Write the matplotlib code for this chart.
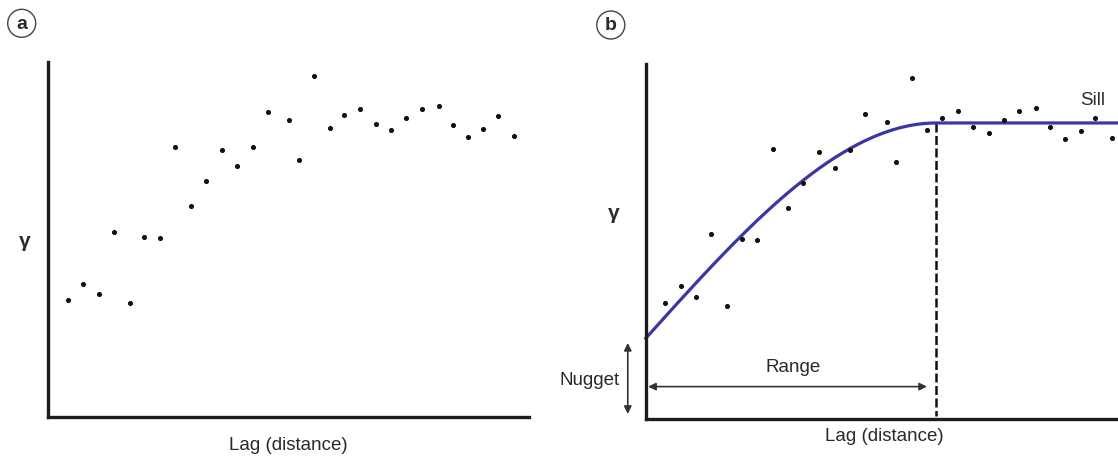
import numpy as np
import matplotlib
matplotlib.use('Agg')
from matplotlib import pyplot as plt
from matplotlib.patches import Circle

plt.rcParams['font.family'] = ['Liberation Sans', 'DejaVu Sans']

# Experimental semivariogram (lag, gamma) in arbitrary units
lag = [4.1, 7.3, 10.5, 13.6, 16.9, 20.0, 23.2, 26.4, 29.6, 32.8,
       36.1, 39.3, 42.5, 45.7, 50.1, 52.1, 55.3, 58.5, 61.6, 64.9,
       68.1, 71.3, 74.5, 77.7, 81.2, 84.1, 87.3, 90.5, 93.5, 96.9]
gamma = [32.8, 37.5, 34.5, 52.2, 32.0, 50.7, 50.5, 76.1, 59.5, 66.5,
         75.1, 70.6, 75.9, 85.8, 83.7, 72.4, 96.1, 81.4, 84.9, 86.8,
         82.4, 80.7, 84.2, 86.7, 87.6, 82.2, 78.9, 81.1, 84.8, 79.2]

# Spherical model parameters
nugget = 22.8
sill = 83.4
vrange = 60.4

text_col = '#2a2a2a'
spine_col = '#1c1c1c'
curve_col = '#3a36a4'


def spherical(h):
    h = np.asarray(h)
    r = np.clip(h / vrange, 0, 1)
    return nugget + (sill - nugget) * (1.5 * r - 0.5 * r ** 3)


def style_axes(ax):
    ax.set_xlim(0, 100)
    ax.set_ylim(0, 100)
    ax.set_xticks([])
    ax.set_yticks([])
    for side in ['top', 'right']:
        ax.spines[side].set_visible(False)
    for side in ['left', 'bottom']:
        ax.spines[side].set_linewidth(2.4)
        ax.spines[side].set_color(spine_col)
    ax.patch.set_alpha(0)


fig = plt.figure(figsize=(11.18, 4.57), dpi=100)

# PANEL a: points only
ax1 = fig.add_axes([0.0432, 0.0875, 0.43, 0.7775])
style_axes(ax1)
ax1.scatter(lag, gamma, s=7, color='#111111', zorder=3, clip_on=False)
ax1.text(-0.0485, 0.493, 'γ', transform=ax1.transAxes, ha='center', va='center',
         fontsize=15, fontweight='bold', color=text_col)
ax1.text(0.5, -0.079, 'Lag (distance)', transform=ax1.transAxes, ha='center', va='center',
         fontsize=13.5, color=text_col)

# PANEL b: points + spherical model
ax2 = fig.add_axes([0.5776, 0.0825, 0.43, 0.7775])
style_axes(ax2)
ax2.scatter(lag, gamma, s=7, color='#111111', zorder=3, clip_on=False)
h = np.linspace(0, 100, 400)
ax2.plot(h, spherical(h), color=curve_col, lw=2.3, zorder=2, clip_on=False)
ax2.plot([vrange, vrange], [sill, 0.8], color='#111111', lw=1.8,
         dashes=(3.6, 1.4), zorder=1)

ax2.annotate('', xy=(0.5, 9.2), xytext=(58.5, 9.2),
             arrowprops=dict(arrowstyle='<|-|>', lw=1.2, color='#333333',
                             mutation_scale=11, shrinkA=0, shrinkB=0))
ax2.text(30.7, 14.5, 'Range', ha='center', va='center', fontsize=13.5, color=text_col)

ax2.annotate('', xy=(-3.74, 1.5), xytext=(-3.74, 21.5), annotation_clip=False,
             arrowprops=dict(arrowstyle='<|-|>', lw=1.2, color='#333333',
                             mutation_scale=11, shrinkA=0, shrinkB=0))
ax2.text(-5.35, 10.8, 'Nugget', ha='right', va='center', fontsize=13.5,
         color=text_col, clip_on=False)

ax2.text(90.3, 87.4, 'Sill', ha='left', va='bottom', fontsize=13.5, color=text_col)
ax2.text(-0.0668, 0.579, 'γ', transform=ax2.transAxes, ha='center', va='center',
         fontsize=15, fontweight='bold', color=text_col)
ax2.text(0.496, -0.049, 'Lag (distance)', transform=ax2.transAxes, ha='center', va='center',
         fontsize=13.5, color=text_col)

# Circled panel labels (positions in inches from bottom-left)
for label, cx, cy in [('a', 0.217, 4.337), ('b', 6.108, 4.32)]:
    fig.patches.append(Circle((cx, cy), 0.14, transform=fig.dpi_scale_trans,
                              fill=False, lw=1.0, edgecolor='#444444'))
    fig.text(cx / 11.18, (cy - 0.01) / 4.57, label, ha='center', va='center',
             fontsize=14, fontweight='bold', color=text_col)

fig.savefig('out.png', dpi=100)
